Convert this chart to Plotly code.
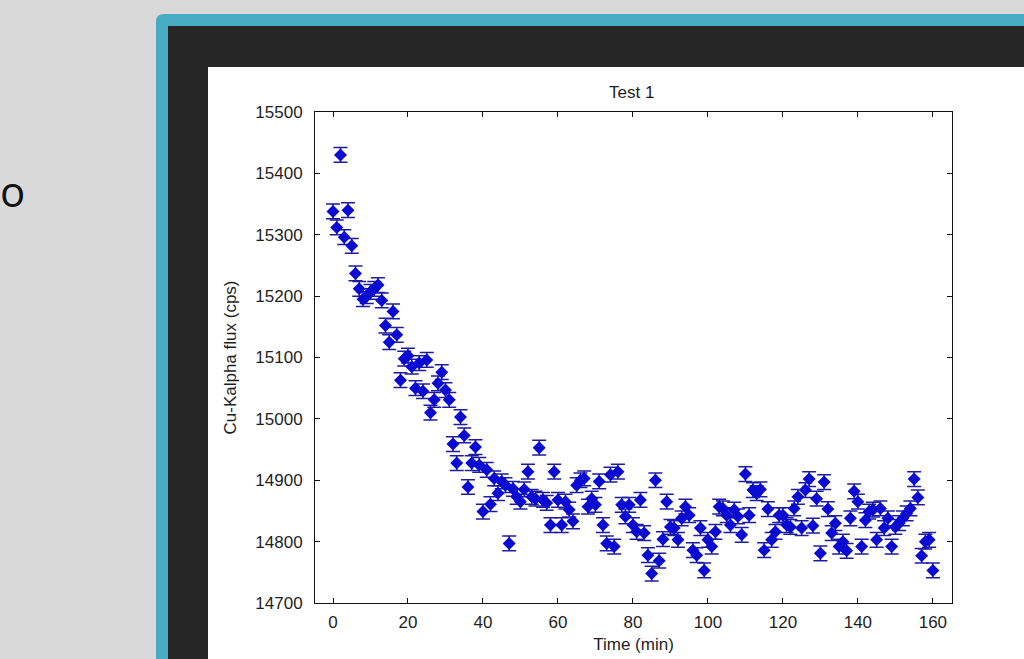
import plotly.graph_objects as go

time_min = list(range(0, 161))
flux_cps = [
    15338, 15312, 15430, 15296, 15340, 15282, 15237, 15212, 15195, 15200,
    15207, 15212, 15218, 15193, 15152, 15125, 15175, 15137, 15063, 15098,
    15103, 15085, 15050, 15091, 15045, 15096, 15010, 15031, 15058, 15076,
    15047, 15031, 14959, 14928, 15003, 14973, 14889, 14928, 14954, 14925,
    14849, 14917, 14861, 14903, 14879, 14898, 14892, 14797, 14886, 14873,
    14865, 14885, 14914, 14873, 14870, 14953, 14868, 14863, 14827, 14914,
    14868, 14827, 14865, 14852, 14833, 14892, 14900, 14903, 14857, 14870,
    14860, 14898, 14827, 14797, 14909, 14792, 14914, 14860, 14841, 14860,
    14827, 14816, 14868, 14814, 14778, 14748, 14900, 14769, 14804, 14865,
    14824, 14822, 14803, 14838, 14857, 14843, 14786, 14778, 14822, 14753,
    14803, 14792, 14816, 14857, 14854, 14843, 14827, 14852, 14841, 14811,
    14910, 14843, 14884, 14879, 14885, 14786, 14853, 14803, 14816, 14843,
    14843, 14827, 14824, 14854, 14873, 14822, 14884, 14902, 14826, 14870,
    14781, 14897, 14853, 14814, 14830, 14792, 14800, 14785, 14838, 14882,
    14865, 14792, 14835, 14849, 14852, 14803, 14854, 14822, 14838, 14792,
    14824, 14830, 14838, 14846, 14854, 14902, 14872, 14777, 14800, 14803,
    14753,
]
flux_err = [12] * len(flux_cps)

x_ticks = [0, 20, 40, 60, 80, 100, 120, 140, 160]
y_ticks = [14700, 14800, 14900, 15000, 15100, 15200, 15300, 15400, 15500]

W, H = 1024, 659
L, R, T, B = 315, 72, 112, 56
PW, PH = W - L - R, H - T - B


def px(x):
    return (x - L) / PW


def py(y):
    return (H - B - y) / PH


font_fam = "Liberation Sans, Arial, sans-serif"
txt_col = "#1e1e1e"

fig = go.Figure()
fig.add_trace(go.Scatter(
    x=time_min, y=flux_cps, mode="markers",
    marker=dict(symbol="diamond", size=10, color="#0a0ad2"),
    error_y=dict(type="data", array=flux_err, color="#1c1ca0", thickness=1.5, width=7),
    showlegend=False,
))

r = 8
teal_path = (
    f"M {px(156)} {py(1100)} L {px(156)} {py(14 + r)} "
    f"Q {px(156)} {py(14)} {px(156 + r)} {py(14)} "
    f"L {px(1100)} {py(14)} L {px(1100)} {py(1100)} Z"
)
shapes = [
    dict(type="path", xref="paper", yref="paper", path=teal_path,
         fillcolor="#48abc4", line=dict(width=0), layer="below"),
    dict(type="rect", xref="paper", yref="paper", x0=px(168), x1=px(1100),
         y0=py(26), y1=py(1100), fillcolor="#262626", line=dict(width=0), layer="below"),
    dict(type="rect", xref="paper", yref="paper", x0=px(208), x1=px(1100),
         y0=py(67), y1=py(1100), fillcolor="#ffffff", line=dict(width=0), layer="below"),
]

annotations = [
    dict(text="o", xref="paper", yref="paper", x=px(12), y=py(190), showarrow=False,
         font=dict(family="Open Sans, sans-serif", size=42, color="#111111"),
         xanchor="center", yanchor="middle"),
    dict(text="Test 1", xref="paper", yref="paper", x=px(631), y=py(93), showarrow=False,
         font=dict(family=font_fam, size=17, color=txt_col),
         xanchor="center", yanchor="middle"),
]

axis_common = dict(
    showline=True, linecolor="#111111", linewidth=1, mirror="ticks",
    ticks="inside", ticklen=5, tickcolor="#111111", showgrid=False, zeroline=False,
    tickfont=dict(family=font_fam, size=17, color=txt_col), automargin=False,
)

fig.update_layout(
    width=W, height=H,
    margin=dict(l=L, r=R, t=T, b=B, autoexpand=False),
    paper_bgcolor="#d9d9d9", plot_bgcolor="#ffffff",
    shapes=shapes, annotations=annotations,
    xaxis=dict(range=[-4.8, 165.1], tickvals=x_ticks, ticktext=[str(v) for v in x_ticks],
               ticklabelstandoff=4,
               title=dict(text="Time (min)", standoff=6,
                          font=dict(family=font_fam, size=17, color=txt_col)),
               **axis_common),
    yaxis=dict(range=[14700, 15500], tickvals=y_ticks, ticktext=[str(v) for v in y_ticks],
               ticklabelstandoff=8,
               title=dict(text="Cu-Kalpha flux (cps)", standoff=14,
                          font=dict(family=font_fam, size=17, color=txt_col)),
               **axis_common),
)

fig.write_html("out.html")
